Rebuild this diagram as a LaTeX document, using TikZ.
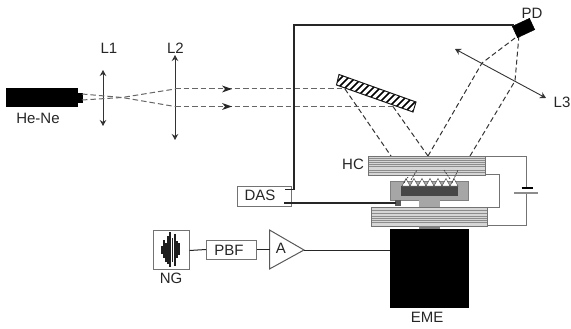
\documentclass[tikz,border=0pt]{standalone}
\usepackage{fontspec}
\setmainfont{Liberation Sans}
\usetikzlibrary{arrows.meta}
\definecolor{plate}{gray}{0.84}
\tikzset{
  x=1pt,y=-1pt,
  lab/.style={font=\fontsize{15}{17}\selectfont,text=black!85,inner sep=0pt},
  boxed/.style={draw=black!55,line width=1pt,fill=white,inner sep=0pt},
  beam/.style={draw=black!60,dash pattern=on 5.5pt off 3pt,line width=1pt},
  refl/.style={draw=black!80,dash pattern=on 5pt off 3pt,line width=1pt},
  wire/.style={draw=black!85,line width=1pt},
  elwire/.style={draw=black!55,line width=1pt},
  lens/.style={draw=black!80,line width=0.9pt,{Stealth[length=6pt,width=6.5pt]}-{Stealth[length=6pt,width=6.5pt]}},
  platefine/.style={draw=black!45,line width=0.5pt},
  pit/.style={draw=black!75,line width=0.7pt,dash pattern=on 2pt off 1pt},
}
\begin{document}
\begin{tikzpicture}
\useasboundingbox (0,0) rectangle (571,329);
% laser
\node[draw=black,fill=black,minimum width=71pt,minimum height=18pt,inner sep=0pt,anchor=north west] (laser) at (5.5,88.5) {};
\node[draw=black,fill=black,minimum width=5pt,minimum height=9pt,inner sep=0pt,anchor=west] (nozzle) at (77,97.5) {};
\node[lab] (hene) at (38,118) {He-Ne};
% lenses
\coordinate (l1t) at (103,70); \coordinate (l1b) at (103,126);
\coordinate (l2t) at (175,55); \coordinate (l2b) at (175,140);
\draw[lens] (l1t) -- (l1b);
\draw[lens] (l2t) -- (l2b);
\node[lab] (L1) at (109,48) {L1};
\node[lab] (L2) at (175.5,48) {L2};
% beams
\coordinate (n1) at (82,94); \coordinate (n2) at (82,100);
\coordinate (b1) at (175,89); \coordinate (b2) at (175,106.5);
\coordinate (m1) at (345,89); \coordinate (m2) at (393,106.5);
\coordinate (f) at (122,97.5);
\draw[beam] (n1) -- (f) -- (b2);
\draw[beam] (n2) -- (f) -- (b1);
\draw[beam] (b1) -- (m1);
\draw[beam] (b2) -- (m2);
\foreach \y in {89,106.5}{
  \fill[black!85] (232,\y) -- (222,\y-3.5) -- (225,\y) -- (222,\y+3.5) -- cycle;
}
% mirror
\begin{scope}
\clip (339,74.5) -- (416,102) -- (413,112) -- (336.5,85) -- cycle;
\fill[white] (330,70) rectangle (420,115);
\foreach \x in {285,292,...,420}
  \draw[black,line width=1.5pt] (\x,120) -- (\x+60,60);
\end{scope}
\draw[black!90,line width=1pt] (339,74.5) -- (416,102) -- (413,112) -- (336.5,85) -- cycle;
% HC reflected beams
\coordinate (h1) at (391,156); \coordinate (h2) at (428,156); \coordinate (h3) at (470,156);
\coordinate (pd1) at (519,35);
\draw[refl] (m1) -- (h1);
\draw[refl] (m2) -- (h2);
\draw[refl] (h2) -- (482,63) -- (pd1);
\draw[refl] (h3) -- (515,81) -- (pd1);
% L3
\draw[lens] (455,49) -- (546,98);
\node[lab] (L3) at (562,102) {L3};
% PD
\node[fill=black,draw=black,rotate=25,minimum width=19pt,minimum height=12.5pt,inner sep=0pt] (pd) at (523.5,28) {};
\node[lab] (PDl) at (532,13) {PD};
% top wire
\coordinate (w0) at (514,25); \coordinate (w1) at (294,25); \coordinate (w2) at (294,189.5); \coordinate (w3) at (285,189.5);
\node[boxed,minimum width=54pt,minimum height=20pt,anchor=north west] (das) at (237,186) {};
\node[lab] at (260,195.5) {DAS};
\draw[wire,line width=1.5pt] (w0) -- (w1) -- (w2) -- (w3);
% plates
\fill[plate] (368,156) rectangle (485,175);
\fill[plate] (371,207) rectangle (487,226);
\foreach \y in {158.5,160.5,162.5,164.5,166.5,170,172.5}
  \draw[platefine] (368,\y) -- (485,\y);
\foreach \y in {210,213,216,218,220,222}
  \draw[platefine] (371,\y) -- (487,\y);
\draw[draw=black!55,line width=0.8pt] (368,156) rectangle (485,175);
\draw[draw=black!55,line width=0.8pt] (371,207) rectangle (487,226);
\node[lab] (HC) at (353,164) {HC};
% holder
\draw[draw=black!50,line width=0.5pt,fill=black!35] (390,181) rectangle (468,200);
\fill[black!72] (401,186) rectangle (458,195.5);
\foreach \x in {402,410,...,450}{
  \draw[fill=white,draw=black!70,line width=0.5pt] (\x,186) -- (\x+4,178.5) -- (\x+8,186) -- cycle;
}
\draw[pit] (411,180) -- (417,170);
\draw[pit] (450,179) -- (444,170);
\draw[pit] (452,183) -- (458,170);
\draw[pit] (404,183) -- (408,177);
\fill[black!35] (419,200) rectangle (440,207);
\fill[black!65] (395,200) rectangle (401,206);
\fill[black!50] (419,226) rectangle (440,229);
% wire to DAS
\coordinate (w4) at (284,203); \coordinate (w5) at (396,203);
\draw[wire,line width=1.3pt] (w4) -- (w5);
% EME
\node[fill=black,draw=black,minimum width=78pt,minimum height=78pt,inner sep=0pt,anchor=north west] (eme) at (390,228.5) {};
\node[lab] (EMEl) at (427,317) {EME};
% electrical
\coordinate (c1) at (485,156); \coordinate (c2) at (526,156); \coordinate (c3) at (526,188);
\coordinate (c4) at (526,193); \coordinate (c5) at (526,225.5); \coordinate (c6) at (487,225.5);
\draw[elwire] (c1) -- (c2) -- (c3);
\draw[elwire] (c4) -- (c5) -- (c6);
\draw[elwire] (485,174) -- (499,174) -- (499,207) -- (487,207);
\draw[draw=black!45,line width=1.1pt] (514,193) -- (538,193);
\draw[draw=black,line width=2pt] (521.5,188) -- (533,188);
% signal chain
\node[boxed,minimum width=36pt,minimum height=39pt,anchor=north west] (ng) at (152.5,230) {};
\foreach \x/\a/\b in {162/246/254,164/240/258,166/243/262,168/236/264,170/232/267,172.5/238/262,175/234/266,177/241/258,179/243/255}
  \draw[black!88,line width=1.1pt] (\x,\a) -- (\x,\b);
\node[lab] (NGl) at (171,278) {NG};
\node[boxed,minimum width=50pt,minimum height=19pt,anchor=north west] (pbf) at (206,239.5) {};
\node[lab] at (229,250) {PBF};
\coordinate (a1) at (269.5,230); \coordinate (a2) at (269.5,269); \coordinate (a3) at (304,250);
\draw[draw=black!65,line width=1pt,fill=white] (a1) -- (a3) -- (a2) -- cycle;
\node[lab] (Al) at (281,248) {A};
\draw[wire] (ng.east) ++(0,0.5) -- (pbf.west);
\draw[wire] (pbf.east) -- (269.5,249.5);
\draw[wire] (a3) -- (eme.west |- a3);
\end{tikzpicture}
\end{document}
